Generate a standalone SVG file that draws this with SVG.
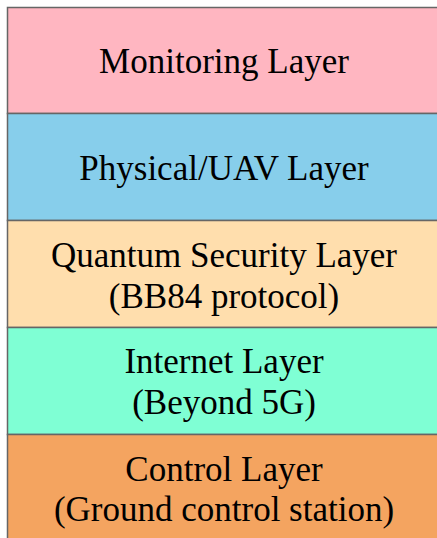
<svg xmlns="http://www.w3.org/2000/svg" width="437" height="538" viewBox="0 0 437 538">
<style>
rect{stroke:#666;stroke-width:1.5}
text{font-family:"Liberation Serif","Times New Roman",serif;font-size:35px;fill:#000;text-anchor:middle}
</style>
<rect width="437" height="538" fill="#fff" style="stroke:none"/>
<g id="monitoring"><rect x="7.5" y="7.5" width="440" height="106" fill="#FFB6C1"/><text x="224" y="73">Monitoring Layer</text></g>
<g id="physical"><rect x="7.5" y="113.5" width="440" height="107" fill="#87CEEB"/><text x="224" y="180">Physical/UAV Layer</text></g>
<g id="quantum"><rect x="7.5" y="220.5" width="440" height="107" fill="#FFDEAD"/><text x="224" y="267">Quantum Security Layer</text><text x="224" y="308">(BB84 protocol)</text></g>
<g id="internet"><rect x="7.5" y="327.5" width="440" height="107" fill="#7FFFD4"/><text x="224" y="373">Internet Layer</text><text x="224" y="414">(Beyond 5G)</text></g>
<g id="control"><rect x="7.5" y="434.5" width="440" height="107" fill="#F4A460"/><text x="224" y="481">Control Layer</text><text x="224" y="521">(Ground control station)</text></g>
<g id="connectors"/>
</svg>
